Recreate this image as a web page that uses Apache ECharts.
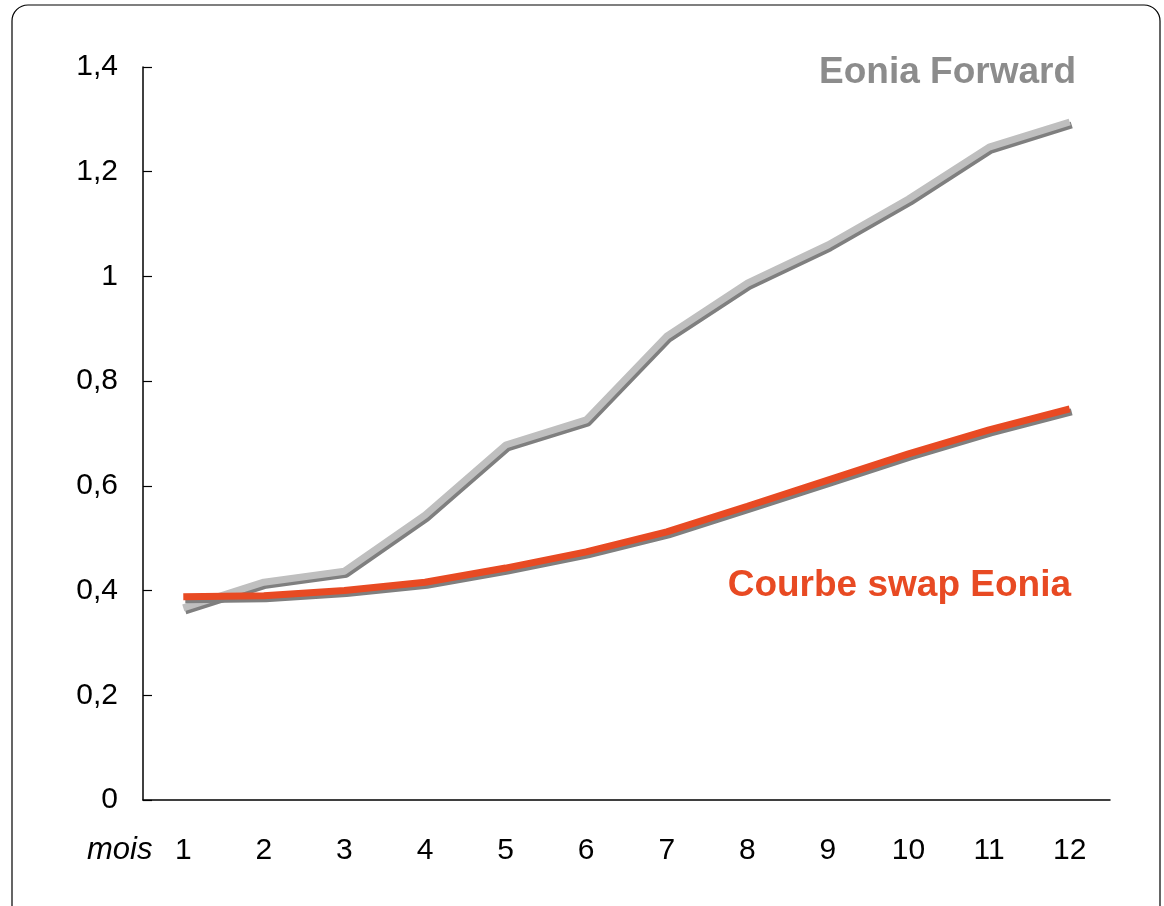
<!DOCTYPE html>
<html>
<head>
<meta charset="utf-8">
<style>
  html, body { margin: 0; padding: 0; background: #fff; }
  #chart { width: 1164px; height: 906px; }
</style>
<script src="https://cdn.jsdelivr.net/npm/echarts@6/dist/echarts.min.js"></script>
</head>
<body>
<div id="chart"></div>
<script>
var months = ['1', '2', '3', '4', '5', '6', '7', '8', '9', '10', '11', '12'];
var eoniaForward = [0.367, 0.416, 0.437, 0.544, 0.678, 0.726, 0.886, 0.987, 1.06, 1.148, 1.247, 1.295];
var swapEonia = [0.388, 0.39, 0.40, 0.416, 0.443, 0.474, 0.512, 0.561, 0.611, 0.661, 0.707, 0.747];

var dom = document.getElementById('chart');
var myChart = echarts.init(dom, null, { renderer: 'canvas' });

var font = '"Liberation Sans", Arial, sans-serif';

var option = {
  animation: false,
  grid: { left: 143, right: 54, top: 67, bottom: 106 },
  graphic: [
    {
      type: 'rect',
      shape: { x: 12, y: 5, width: 1148, height: 920, r: 16 },
      style: { fill: 'none', stroke: '#000', lineWidth: 1.2 },
      z: -1
    },
    {
      type: 'text',
      x: 87, y: 850,
      style: { text: 'mois', font: 'italic 31px ' + font, fill: '#000', textAlign: 'left', textVerticalAlign: 'middle' }
    },
    {
      type: 'text',
      x: 1076, y: 73,
      style: { text: 'Eonia Forward', font: 'bold 37px ' + font, fill: '#8c8c8c', textAlign: 'right', textVerticalAlign: 'middle' }
    },
    {
      type: 'text',
      x: 1071, y: 586,
      style: { text: 'Courbe swap Eonia', font: 'bold 37px ' + font, fill: '#e84a23', textAlign: 'right', textVerticalAlign: 'middle' }
    }
  ],
  xAxis: {
    type: 'category',
    data: months,
    boundaryGap: true,
    axisLine: { lineStyle: { color: '#000', width: 1.5 } },
    axisTick: { inside: true, length: 10, lineStyle: { color: '#000', width: 1.2 } },
    axisLabel: { color: '#000', fontSize: 30, fontFamily: font, margin: 36 }
  },
  yAxis: {
    type: 'value',
    min: 0,
    max: 1.4,
    interval: 0.2,
    splitLine: { show: false },
    axisLine: { show: true, lineStyle: { color: '#000', width: 1.5 } },
    axisTick: { show: true, inside: true, length: 9, lineStyle: { color: '#000', width: 1.2 } },
    axisLabel: {
      color: '#000', fontSize: 30, fontFamily: font, margin: 25,
      formatter: function (v) { return String(Math.round(v * 10) / 10).replace('.', ','); }
    }
  },
  series: [
    {
      name: 'Eonia Forward',
      type: 'line',
      data: eoniaForward,
      symbol: 'none',
      lineStyle: {
        color: '#bfbfbf', width: 7,
        shadowColor: '#7f7f7f', shadowBlur: 0, shadowOffsetX: 2, shadowOffsetY: 3
      },
      z: 2
    },
    {
      name: 'Courbe swap Eonia',
      type: 'line',
      data: swapEonia,
      symbol: 'none',
      lineStyle: {
        color: '#e84a23', width: 7,
        shadowColor: '#7f7f7f', shadowBlur: 0, shadowOffsetX: 2, shadowOffsetY: 3
      },
      z: 3
    }
  ]
};

myChart.setOption(option);
window.addEventListener('resize', myChart.resize);
</script>
</body>
</html>
